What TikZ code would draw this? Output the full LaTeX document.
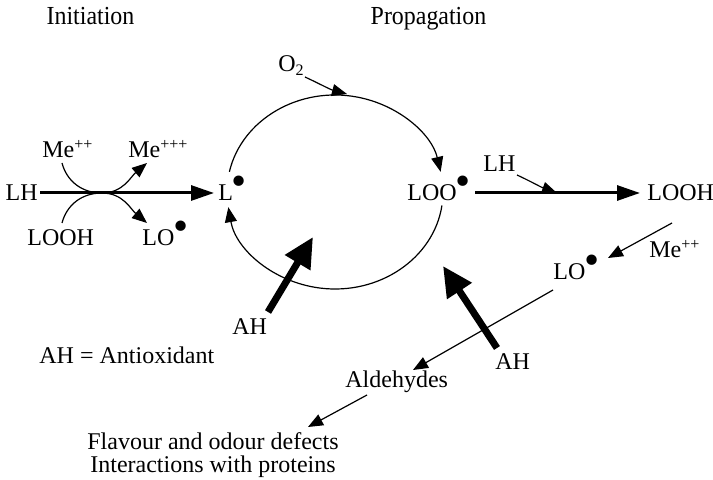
\documentclass[tikz,border=0pt]{standalone}
\usepackage{fontspec}
\setmainfont{Liberation Serif}
\usetikzlibrary{arrows.meta}
\newcommand\radot{\kern-0.6pt\raisebox{0.5ex}{\scalebox{1.8}{\textbullet}}}
\begin{document}
\begin{tikzpicture}[x=0.5pt,y=-0.5pt,
  lbl/.style={inner sep=0pt, font=\fontsize{12}{14}\selectfont, anchor=base west},
  ttl/.style={inner sep=0pt, font=\fontsize{13}{15}\selectfont, anchor=base, xscale=0.92},
  conn/.style={line width=0.6pt, -{Triangle[length=7.5pt,width=6pt]}},
  mainarr/.style={line width=1.5pt, -{Triangle[length=11.5pt,width=7.5pt]}},
  anti/.style={line width=3.5pt, -{Triangle[length=15pt,width=14pt]}},
  cyc/.style={line width=0.6pt, -{Triangle[length=7.5pt,width=6pt]}}]
\useasboundingbox (0,0) rectangle (713,480);
% titles
\node[ttl] (init) at (90.5,25) {Initiation};
\node[ttl] (prop) at (428.5,25) {Propagation};
% initiation
\node[lbl,anchor=base east] (lh1) at (38,201) {LH};
\node[lbl] (me1) at (42,158) {Me\textsuperscript{++}};
\node[lbl] (me3) at (128,158) {Me\textsuperscript{+++}};
\node[lbl] (looh1) at (27,246) {LOOH};
\node[lbl] (lo1) at (142,246) {LO\radot};
\node[lbl] (l) at (218,201) {L\radot};
% propagation
\node[lbl] (o2) at (278,72) {O\textsubscript{2}};
\node[lbl] (loo) at (407,201) {LOO\radot};
\node[lbl] (lh2) at (483,172) {LH};
\node[lbl] (looh2) at (647,201) {LOOH};
\node[lbl] (me2) at (649,258) {Me\textsuperscript{++}};
\node[lbl] (lo2) at (553,280) {LO\radot};
\node[lbl] (ald) at (345,388) {Aldehydes};
\node[lbl,anchor=base] (flav) at (213,450) {Flavour and odour defects};
\node[lbl,anchor=base] (inter) at (213,473) {Interactions with proteins};
\node[lbl] (ahdef) at (39,364) {AH = Antioxidant};
\node[lbl] (ah1) at (232,335) {AH};
\node[lbl] (ah2) at (495,370) {AH};
% coordinates
\coordinate (lhe) at (40,193);
\coordinate (le) at (214,193);
\coordinate (mid1) at (102,193);
\coordinate (me1s) at (62,163);
\coordinate (me3e) at (147,163);
\coordinate (looh1s) at (62,223);
\coordinate (lo1e) at (147,223);
\coordinate (o2s) at (305,77);
\coordinate (o2e) at (347,94);
\coordinate (loos) at (475,193);
\coordinate (loohe) at (640,193);
\coordinate (lh2s) at (517,175);
\coordinate (lh2e) at (557,193);
\coordinate (looh2s) at (672,223);
\coordinate (lo2e) at (608,258);
\coordinate (lo2s) at (553,290);
\coordinate (alde) at (413,370);
\coordinate (alds) at (367,395);
\coordinate (flave) at (308,427);
\coordinate (ah1s) at (268,312);
\coordinate (ah1e) at (313,237);
\coordinate (ah2s) at (497,348);
\coordinate (ah2e) at (443,266);
\coordinate (ctop) at ({335+108*cos(168)},{192-97*sin(168)});
\coordinate (cbot) at ({335+108*cos(-8)},{192-97*sin(-8)});
% initiation arrows
\draw[mainarr] (lhe) -- (le);
\draw[conn] (me1s) to[out=-75,in=180] (mid1) to[out=0,in=-140] (me3e);
\draw[conn] (looh1s) to[out=75,in=180] (mid1) to[out=0,in=140] (lo1e);
% cycle
\draw[cyc] (ctop) arc[start angle=168,end angle=12,x radius=54pt,y radius=48.5pt];
\draw[cyc] (cbot) arc[start angle=-8,end angle=-171,x radius=54pt,y radius=48.5pt];
\draw[conn] (o2s) to[out=-25,in=165] (o2e);
% propagation arrows
\draw[mainarr] (loos) -- (loohe);
\draw[conn] (lh2s) to[out=-25,in=160] (lh2e);
\draw[conn] (looh2s) -- (lo2e);
\draw[conn] (lo2s) -- (alde);
\draw[conn] (alds) -- (flave);
\draw[anti] (ah1s) -- (ah1e);
\draw[anti] (ah2s) -- (ah2e);
\end{tikzpicture}
\end{document}
